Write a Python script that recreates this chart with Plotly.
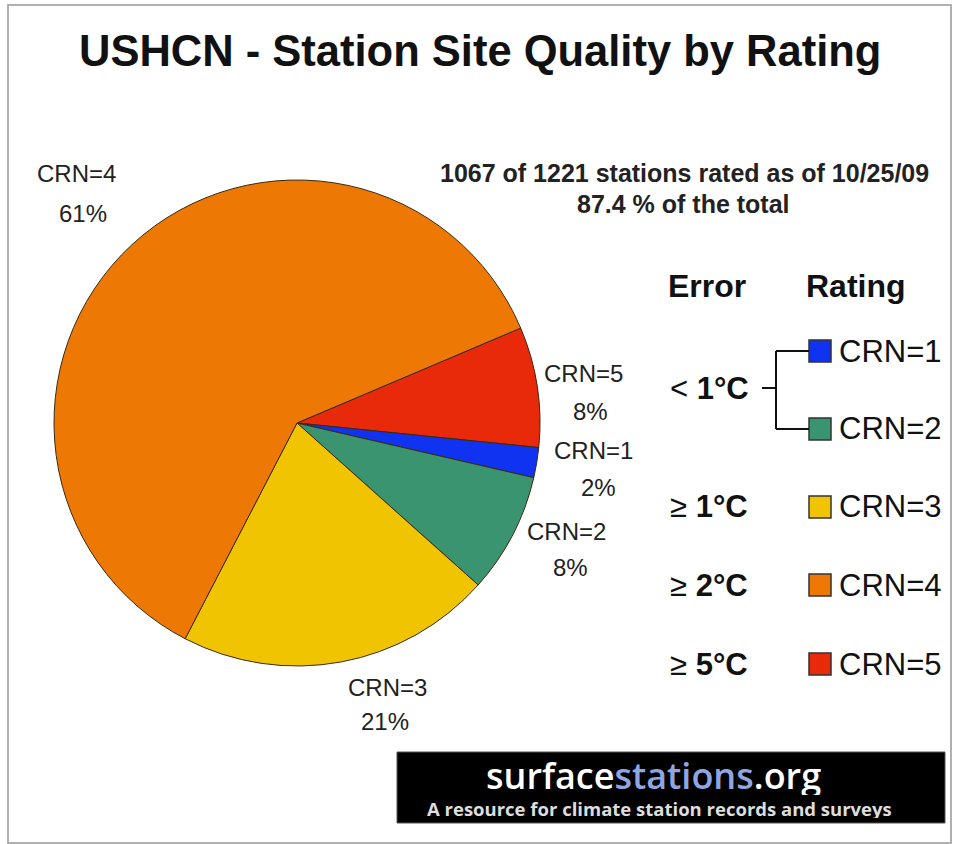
import plotly.graph_objects as go

# ---- data ----
ratings = ["CRN=5", "CRN=1", "CRN=2", "CRN=3", "CRN=4"]
percents = [8, 2, 8, 21, 61]
colors = ["#E82A0A", "#1033F2", "#3A9470", "#F0C400", "#EE7804"]
error_labels = ["< <b>1°C</b>", "≥ <b>1°C</b>", "≥ <b>2°C</b>", "≥ <b>5°C</b>"]
legend_ratings = ["CRN=1", "CRN=2", "CRN=3", "CRN=4", "CRN=5"]
legend_colors = ["#1033F2", "#3A9470", "#F0C400", "#EE7804", "#E82A0A"]

W, H = 956, 844


def px(x):
    return x / W


def py(y):
    return 1 - y / H


# pie geometry (pixels)
cx, cy, r = 297, 423, 243

fig = go.Figure()
fig.add_trace(go.Pie(
    labels=ratings, values=percents, sort=False, direction="clockwise",
    rotation=67, textinfo="none", showlegend=False,
    marker=dict(colors=colors, line=dict(color="#3a2a10", width=1)),
    domain=dict(x=[px(cx - r), px(cx + r)], y=[py(cy + r), py(cy - r)]),
    hovertemplate="%{label}: %{value}%<extra></extra>",
))

ann = []
SANS = "Liberation Sans, Arial, sans-serif"
lab_font = dict(family=SANS, size=24, color="#222")
# slice labels: (name x, name y, pct x, pct y)
slice_label_pos = {
    "CRN=4": (76, 173, 83, 213), "CRN=5": (583, 373, 590, 411),
    "CRN=1": (593, 450, 598, 487), "CRN=2": (566, 531, 570, 567),
    "CRN=3": (387, 687, 385, 721),
}
for name, val in zip(ratings, percents):
    x1, y1, x2, y2 = slice_label_pos[name]
    ann.append(dict(x=px(x1), y=py(y1), xref="paper", yref="paper",
                    text=name, showarrow=False,
                    font=lab_font, xanchor="center", yanchor="middle"))
    ann.append(dict(x=px(x2), y=py(y2), xref="paper", yref="paper",
                    text=f"{val}%", showarrow=False,
                    font=lab_font, xanchor="center", yanchor="middle"))

# title
ann.append(dict(x=px(480), y=py(51), xref="paper", yref="paper",
                text="<b>USHCN - Station Site Quality by Rating</b>", showarrow=False,
                font=dict(family=SANS, size=43.5, color="#111"),
                xanchor="center", yanchor="middle"))
# note
nfont = dict(family=SANS, size=25, color="#222")
ann.append(dict(x=px(684), y=py(173), xref="paper", yref="paper",
                text="<b>1067 of 1221 stations rated as of 10/25/09</b>", showarrow=False,
                font=nfont, xanchor="center", yanchor="middle"))
ann.append(dict(x=px(683), y=py(204), xref="paper", yref="paper",
                text="<b>87.4 % of the total</b>", showarrow=False,
                font=nfont, xanchor="center", yanchor="middle"))

# legend headers
hfont = dict(family=SANS, size=32, color="#111")
ann.append(dict(x=px(707), y=py(286), xref="paper", yref="paper", text="<b>Error</b>",
                showarrow=False, font=hfont, xanchor="center", yanchor="middle"))
ann.append(dict(x=px(856), y=py(286), xref="paper", yref="paper", text="<b>Rating</b>",
                showarrow=False, font=hfont, xanchor="center", yanchor="middle"))

lfont = dict(family=SANS, size=31, color="#111")
error_y = [388, 507, 585, 664]
for t, y in zip(error_labels, error_y):
    ann.append(dict(x=px(709), y=py(y), xref="paper", yref="paper", text=t,
                    showarrow=False, font=lfont, xanchor="center", yanchor="middle"))

rating_y = [351, 429, 507, 585, 664]
shapes = []
for name, col, y in zip(legend_ratings, legend_colors, rating_y):
    shapes.append(dict(type="rect", xref="paper", yref="paper",
                       x0=px(809), x1=px(831), y0=py(y + 11), y1=py(y - 11),
                       fillcolor=col, line=dict(color="#333", width=1.5)))
    ann.append(dict(x=px(837), y=py(y), xref="paper", yref="paper", text=name,
                    showarrow=False, font=lfont, xanchor="left", yanchor="middle"))

# bracket for < 1°C
bl = dict(color="#111", width=2)
shapes.append(dict(type="line", xref="paper", yref="paper",
                   x0=px(762), x1=px(776), y0=py(388), y1=py(388), line=bl))
shapes.append(dict(type="line", xref="paper", yref="paper",
                   x0=px(776), x1=px(776), y0=py(351), y1=py(429), line=bl))
shapes.append(dict(type="line", xref="paper", yref="paper",
                   x0=px(776), x1=px(809), y0=py(351), y1=py(351), line=bl))
shapes.append(dict(type="line", xref="paper", yref="paper",
                   x0=px(776), x1=px(809), y0=py(429), y1=py(429), line=bl))

# banner
shapes.append(dict(type="rect", xref="paper", yref="paper",
                   x0=px(397), x1=px(945), y0=py(823), y1=py(752),
                   fillcolor="#000", line=dict(color="#555", width=1)))
ann.append(dict(x=px(653), y=py(775), xref="paper", yref="paper",
                text="<span style='color:#ffffff'>surface</span>"
                     "<span style='color:#8FA6E2'>stations</span>"
                     "<span style='color:#ffffff'>.org</span>",
                showarrow=False, height=40,
                font=dict(family="Open Sans, sans-serif", size=36, color="#fff", weight=600),
                xanchor="center", yanchor="middle"))
ann.append(dict(x=px(659), y=py(808), xref="paper", yref="paper",
                text="<b>A resource for climate station records and surveys</b>",
                showarrow=False, height=20,
                font=dict(family="Open Sans, sans-serif", size=18.5, color="#DDDDDD"),
                xanchor="center", yanchor="middle"))

# outer frame
shapes.append(dict(type="rect", xref="paper", yref="paper",
                   x0=px(8), x1=px(951), y0=py(843), y1=py(5),
                   line=dict(color="#B0B0B0", width=2), fillcolor="rgba(0,0,0,0)"))

fig.update_layout(
    width=W, height=H, margin=dict(l=0, r=0, t=0, b=0),
    paper_bgcolor="white", plot_bgcolor="white",
    annotations=ann, shapes=shapes,
)

fig.write_html(
    "out.html",
    config={"displayModeBar": False},
    post_script="document.body.style.margin='0px';document.body.style.overflow='hidden';",
)
